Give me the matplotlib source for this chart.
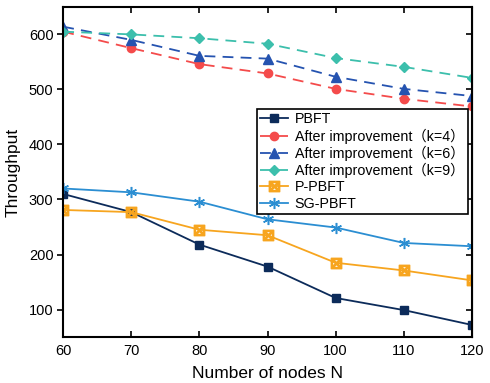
import matplotlib.pyplot as plt

plt.rcParams["font.family"] = ["Liberation Sans", "Noto Sans CJK SC", "DejaVu Sans"]

NODES = [60, 70, 80, 90, 100, 110, 120]
PBFT = [310, 277, 218, 178, 121, 99, 72]
K4 = [605, 575, 546, 529, 501, 483, 469]
K6 = [614, 590, 561, 556, 523, 501, 488]
K9 = [605, 600, 593, 583, 557, 541, 521]
P_PBFT = [281, 277, 245, 235, 185, 171, 153]
SG_PBFT = [320, 313, 296, 264, 249, 221, 215]

LABELS = [
    "PBFT",
    "After improvement（k=4）",
    "After improvement（k=6）",
    "After improvement（k=9）",
    "P-PBFT",
    "SG-PBFT",
]

figure = plt.figure(figsize=(4.9, 3.83), dpi=100)
axes = figure.add_axes([0.129, 0.120, 0.834, 0.862])

axes.plot(NODES, PBFT, color="#0c2b5a", marker="s", markersize=6, lw=1.3, label=LABELS[0])
axes.plot(NODES, K4, color="#f44b4b", marker="o", markersize=6, lw=1.3, ls=(0, (6, 4)), label=LABELS[1])
axes.plot(NODES, K6, color="#2553b0", marker="^", markersize=6.5, lw=1.3, ls=(0, (6, 4)), label=LABELS[2])
axes.plot(NODES, K9, color="#3cbfac", marker="D", markersize=5.5, lw=1.3, ls=(0, (6, 4)), label=LABELS[3])
axes.plot(NODES, P_PBFT, color="#f7a51f", marker="$\\boxtimes$", markersize=7.5, lw=1.3, label=LABELS[4])
axes.plot(NODES, SG_PBFT, color="#2b8ed2", marker=(6, 2, 0), markersize=8, mew=1.1, lw=1.3, label=LABELS[5])

axes.set_xlim(60, 120)
axes.set_ylim(50, 650)
axes.set_xticks(NODES)
axes.set_yticks([100, 200, 300, 400, 500, 600])
axes.tick_params(axis="x", direction="in", top=True, labelsize=10.5, length=4, width=1.2, pad=5)
axes.tick_params(axis="y", direction="out", labelsize=10.5, length=4, width=1.2, pad=3)
for spine in axes.spines.values():
    spine.set_linewidth(1.5)
twin = axes.secondary_yaxis("right")
twin.set_yticks([100, 200, 300, 400, 500, 600])
twin.tick_params(direction="in", length=4, width=1.2, labelright=False)

axes.set_xlabel("Number of nodes N", fontsize=12.5, labelpad=6)
axes.set_ylabel("Throughput", fontsize=12.5, labelpad=6)

legend = axes.legend(
    loc="upper right",
    bbox_to_anchor=(0.99, 0.692),
    fontsize=10.3,
    frameon=True,
    fancybox=False,
    edgecolor="black",
    framealpha=1,
    handlelength=1.9,
    borderpad=0.25,
    labelspacing=0.15,
    handletextpad=0.5,
    borderaxespad=0,
)
legend.get_frame().set_linewidth(1.2)

figure.savefig("out.png", dpi=100)
